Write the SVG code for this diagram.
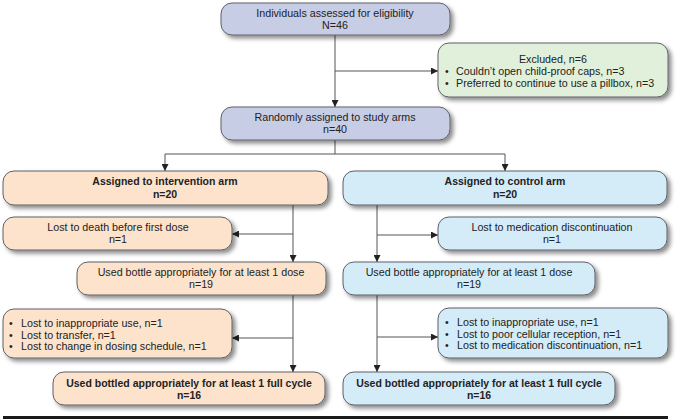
<svg xmlns="http://www.w3.org/2000/svg" width="680" height="419" viewBox="0 0 680 419">
<defs>
<filter id="sh" x="-10%" y="-20%" width="130%" height="160%">
<feDropShadow dx="3" dy="3" stdDeviation="2" flood-color="#000" flood-opacity="0.45"/>
</filter>
<marker id="ah" viewBox="0 0 10 10" refX="10" refY="5" markerWidth="7" markerHeight="7" orient="auto" markerUnits="userSpaceOnUse">
<path d="M0,0 L10,5 L0,10 z" fill="#222"/>
</marker>
<style>
.b{stroke:#5e6068;stroke-width:1;filter:url(#sh)}
.lav{fill:#c8cde6}
.grn{fill:#e1f0da}
.pch{fill:#fde3cc}
.blu{fill:#d4ebf8}
text{font-family:"Liberation Sans",Arial,sans-serif;font-size:10.7px;fill:#222}
.c{text-anchor:middle}
.bd{font-weight:bold;font-size:10.5px}
.ln{stroke:#555;stroke-width:1;fill:none}
.ar{marker-end:url(#ah)}
</style>
</defs>
<rect width="680" height="419" fill="#fff"/>
<g id="connectors">
<path class="ln ar" d="M335,35 V107"/>
<path class="ln ar" d="M335,71 H438"/>
<path class="ln" d="M335,140 V154 M165,154 H505"/>
<path class="ln ar" d="M165,154 V171"/>
<path class="ln ar" d="M505,154 V171"/>
<path class="ln ar" d="M293,205 V262"/>
<path class="ln ar" d="M293,234 H232"/>
<path class="ln ar" d="M293,295 V372"/>
<path class="ln ar" d="M293,338 H232"/>
<path class="ln ar" d="M377,205 V262"/>
<path class="ln ar" d="M377,235 H438"/>
<path class="ln ar" d="M377,295 V372"/>
<path class="ln ar" d="M377,337 H438"/>
</g>
<g id="assessed">
<rect class="b lav" x="221" y="3" width="229" height="32" rx="11"/>
<text class="c" x="335" y="17">Individuals assessed for eligibility</text>
<text class="c" x="335" y="29">N=46</text>
</g>
<g id="excluded">
<rect class="b grn" x="438" y="43" width="230" height="54" rx="11"/>
<text class="c" x="553" y="63">Excluded, n=6</text>
<text x="445" y="75">•<tspan x="456">Couldn’t open child-proof caps, n=3</tspan></text>
<text x="445" y="87">•<tspan x="456">Preferred to continue to use a pillbox, n=3</tspan></text>
</g>
<g id="randomized">
<rect class="b lav" x="221" y="107" width="229" height="33" rx="11"/>
<text class="c" x="335" y="121">Randomly assigned to study arms</text>
<text class="c" x="335" y="133">n=40</text>
</g>
<g id="int-arm">
<rect class="b pch" x="3" y="171" width="325" height="34" rx="11"/>
<text class="c bd" x="165" y="185">Assigned to intervention arm</text>
<text class="c bd" x="165" y="198">n=20</text>
</g>
<g id="int-lost1">
<rect class="b pch" x="3" y="217" width="229" height="33" rx="11"/>
<text class="c" x="118" y="231">Lost to death before first dose</text>
<text class="c" x="118" y="243">n=1</text>
</g>
<g id="int-used1">
<rect class="b pch" x="77" y="262" width="249" height="33" rx="11"/>
<text class="c" x="201" y="276">Used bottle appropriately for at least 1 dose</text>
<text class="c" x="201" y="288">n=19</text>
</g>
<g id="int-lost2">
<rect class="b pch" x="3" y="309" width="229" height="49" rx="11"/>
<text x="9" y="327">•<tspan x="21">Lost to inappropriate use, n=1</tspan></text>
<text x="9" y="339">•<tspan x="21">Lost to transfer, n=1</tspan></text>
<text x="9" y="350">•<tspan x="21">Lost to change in dosing schedule, n=1</tspan></text>
</g>
<g id="int-final">
<rect class="b pch" x="53" y="372" width="272" height="33" rx="11"/>
<text class="c bd" x="189" y="387">Used bottled appropriately for at least 1 full cycle</text>
<text class="c bd" x="189" y="399">n=16</text>
</g>
<g id="ctl-arm">
<rect class="b blu" x="343" y="171" width="324" height="34" rx="11"/>
<text class="c bd" x="505" y="185">Assigned to control arm</text>
<text class="c bd" x="505" y="198">n=20</text>
</g>
<g id="ctl-lost1">
<rect class="b blu" x="438" y="217" width="229" height="33" rx="11"/>
<text class="c" x="552" y="231">Lost to medication discontinuation</text>
<text class="c" x="552" y="243">n=1</text>
</g>
<g id="ctl-used1">
<rect class="b blu" x="343" y="262" width="252" height="33" rx="11"/>
<text class="c" x="469" y="276">Used bottle appropriately for at least 1 dose</text>
<text class="c" x="469" y="288">n=19</text>
</g>
<g id="ctl-lost2">
<rect class="b blu" x="438" y="308" width="230" height="50" rx="11"/>
<text x="445" y="326">•<tspan x="457">Lost to inappropriate use, n=1</tspan></text>
<text x="445" y="338">•<tspan x="457">Lost to poor cellular reception, n=1</tspan></text>
<text x="445" y="349">•<tspan x="457">Lost to medication discontinuation, n=1</tspan></text>
</g>
<g id="ctl-final">
<rect class="b blu" x="343" y="372" width="272" height="33" rx="11"/>
<text class="c bd" x="479" y="387">Used bottled appropriately for at least 1 full cycle</text>
<text class="c bd" x="479" y="399">n=16</text>
</g>
<rect x="3" y="416" width="665" height="3" fill="#1a1a1a"/>
</svg>
